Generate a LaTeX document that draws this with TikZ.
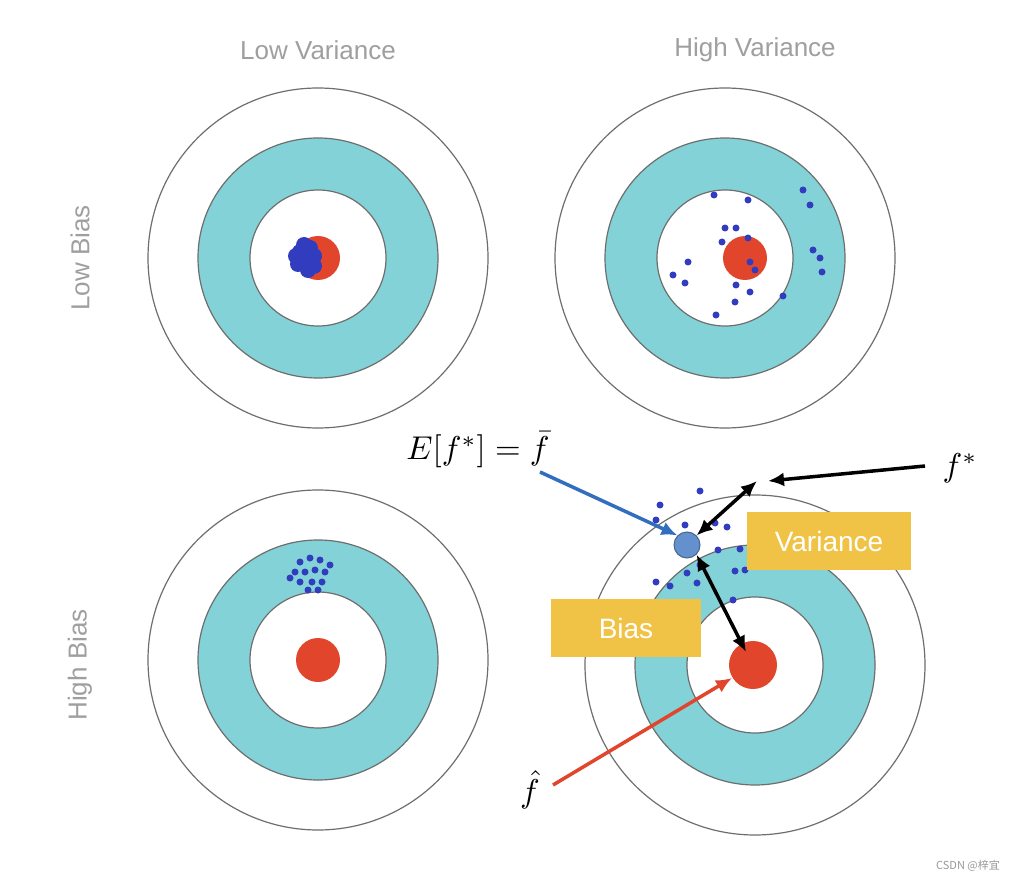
\documentclass[tikz,border=0pt]{standalone}
\usepackage{fontspec}
\setsansfont{Liberation Sans}
\newfontfamily\cjk{Noto Sans CJK SC}
\usetikzlibrary{arrows.meta}
\definecolor{teal1}{RGB}{130,210,215}
\definecolor{ring}{RGB}{110,110,110}
\definecolor{redc}{RGB}{225,70,45}
\definecolor{dotb}{RGB}{50,60,190}
\definecolor{gold}{RGB}{240,195,70}
\definecolor{fbar}{RGB}{100,145,205}
\definecolor{bluearr}{RGB}{50,110,190}
\tikzset{
 lbl/.style={font=\sffamily\fontsize{26}{26}\selectfont, text=gray!75},
 box/.style={fill=gold, text=white, font=\sffamily\fontsize{28}{28}\selectfont, inner sep=0pt, minimum height=58pt},
 dot/.style={circle, fill=dotb, inner sep=0pt, minimum size=7pt},
 tip/.tip={Latex[length=16pt,width=14pt]},
 arr/.style={-tip, line width=3.5pt},
 darr/.style={tip-tip, line width=3.5pt},
 mathl/.style={scale=3.3},
}
\newcommand{\target}[3]{%
 \fill[white,draw=ring,line width=1.2pt] (#1,#2) circle (#3*170);
 \fill[teal1,draw=ring,line width=1.2pt] (#1,#2) circle (#3*120);
 \fill[white,draw=ring,line width=1.2pt] (#1,#2) circle (#3*68);
}
\begin{document}
\begin{tikzpicture}[x=1pt,y=-1pt]
\useasboundingbox (0,0) rectangle (1022,882);
\fill[white] (0,0) rectangle (1022,882);
\node[lbl] (lv) at (318,50) {Low Variance};
\node[lbl] (hv) at (755,50) {High Variance};
\node[lbl,rotate=90] (lb) at (80,258) {Low Bias};
\node[lbl,rotate=90] (hb) at (80,665) {High Bias};
% targets
\target{318}{258}{1}
\target{725}{258}{1}
\target{318}{660}{1}
\target{755}{665}{1}
% TL
\fill[redc] (318,258) circle (22);
\foreach \p in {(300,252),(306,262),(310,248),(298,264),(308,270),(314,256),(304,245),(314,266),(296,256)}
 \fill[dotb] \p circle (8);
% TR
\fill[redc] (745,258) circle (22);
\foreach \p in {(714,195),(748,200),(803,190),(810,205),(725,228),(736,228),(722,242),(748,238),(813,250),(820,258),(822,272),(688,262),(673,275),(685,283),(736,285),(750,292),(735,302),(783,296),(716,315),(750,262),(755,270)}
 \node[dot] at \p {};
% BL
\fill[redc] (318,660) circle (22);
\foreach \p in {(300,562),(310,558),(320,560),(295,572),(305,572),(315,570),(325,572),(300,582),(312,582),(322,582),(290,578),(330,565),(308,590),(318,590)}
 \node[dot] at \p {};
% BR
\fill[redc] (753,665) circle (24);
\foreach \p in {(660,505),(700,491),(656,520),(685,525),(715,523),(740,549),(727,527),(718,550),(656,582),(670,586),(687,573),(700,565),(697,583),(745,570),(733,600),(735,571)}
 \node[dot] at \p {};
\node[circle,fill=fbar,draw=fbar!70!black,line width=1pt,minimum size=26pt,inner sep=0pt] (fb) at (687,545) {};
\coordinate (fs) at (757,481);
\coordinate (fh) at (746,652);
\node[box,minimum width=164pt] (var) at (829,541) {Variance};
\node[box,minimum width=150pt] (bias) at (626,628) {Bias};
% labels
\node[mathl] (eq) at (478,450) {$E[f^*]=\bar f$};
\node[mathl] (fstar) at (960,468) {$f^*$};
\node[mathl] (fhat) at (530,790) {$\hat f$};
\coordinate (blueS) at (540,472);
\coordinate (redS) at (553,785);
\coordinate (redE) at (732,678);
\coordinate (blkS) at (925,466);
\coordinate (blkE) at (768,481);
\draw[arr,bluearr] (blueS) -- (fb.north west);
\draw[arr,redc] (redS) -- (redE);
\draw[arr] (blkS) -- (blkE);
\draw[darr] (fs) -- (fb.north east);
\draw[darr] (fb.south east) -- (fh);
\node[font=\cjk\fontsize{11}{11}\selectfont,text=gray!80] (wm) at (968,866) {CSDN @梓宜};
\end{tikzpicture}
\end{document}
